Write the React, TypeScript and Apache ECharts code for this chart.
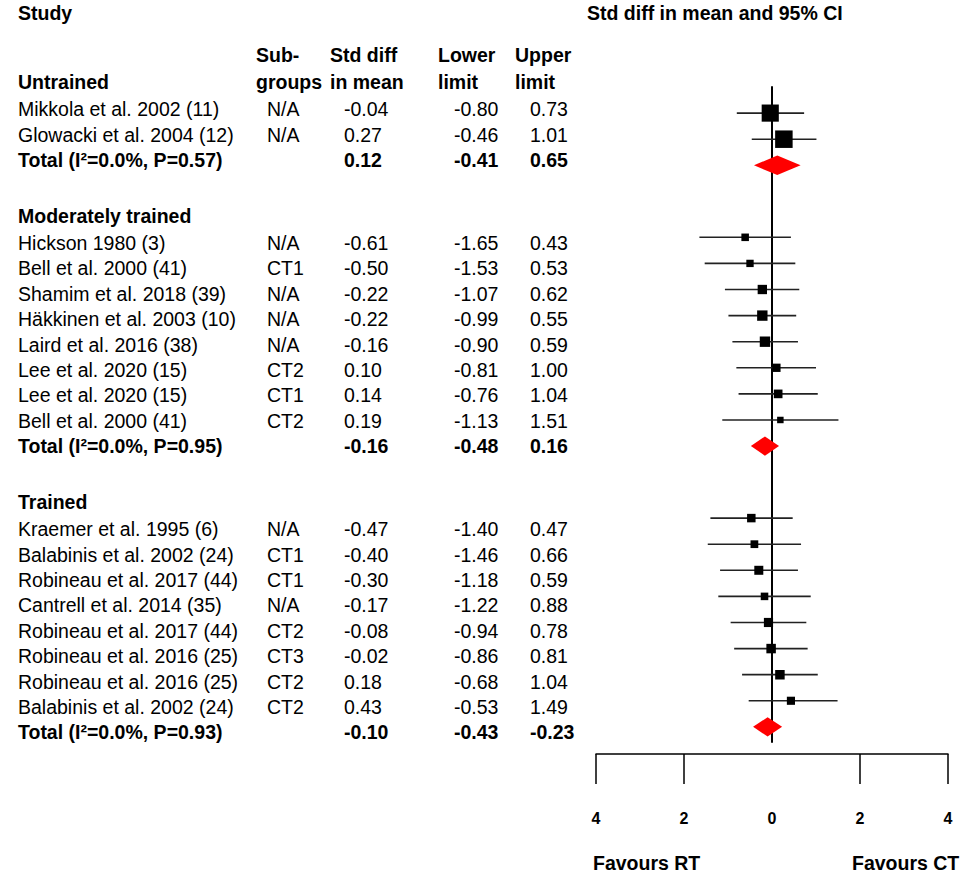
import React, { useEffect, useRef } from "react";
import * as echarts from "echarts";

// ---- subgroup data -------------------------------------------------------
const groupNames = ["Untrained", "Moderately trained", "Trained"];

const untrainedStudies = ["Mikkola et al. 2002 (11)", "Glowacki et al. 2004 (12)"];
const untrainedSubgroups = ["N/A", "N/A"];
const untrainedSmd = [-0.04, 0.27];
const untrainedLower = [-0.8, -0.46];
const untrainedUpper = [0.73, 1.01];
const untrainedWeights = [49, 51];

const moderateStudies = [
  "Hickson 1980 (3)",
  "Bell et al. 2000 (41)",
  "Shamim et al. 2018 (39)",
  "Häkkinen et al. 2003 (10)",
  "Laird et al. 2016 (38)",
  "Lee et al. 2020 (15)",
  "Lee et al. 2020 (15)",
  "Bell et al. 2000 (41)",
];
const moderateSubgroups = ["N/A", "CT1", "N/A", "N/A", "N/A", "CT2", "CT1", "CT2"];
const moderateSmd = [-0.61, -0.5, -0.22, -0.22, -0.16, 0.1, 0.14, 0.19];
const moderateLower = [-1.65, -1.53, -1.07, -0.99, -0.9, -0.81, -0.76, -1.13];
const moderateUpper = [0.43, 0.53, 0.62, 0.55, 0.59, 1.0, 1.04, 1.51];
const moderateWeights = [9.5, 9.0, 14.5, 18.0, 18.0, 11.5, 12.5, 7.0];

const trainedStudies = [
  "Kraemer et al. 1995 (6)",
  "Balabinis et al. 2002 (24)",
  "Robineau et al. 2017 (44)",
  "Cantrell et al. 2014 (35)",
  "Robineau et al. 2017 (44)",
  "Robineau et al. 2016 (25)",
  "Robineau et al. 2016 (25)",
  "Balabinis et al. 2002 (24)",
];
const trainedSubgroups = ["N/A", "CT1", "CT1", "N/A", "CT2", "CT3", "CT2", "CT2"];
const trainedSmd = [-0.47, -0.4, -0.3, -0.17, -0.08, -0.02, 0.18, 0.43];
const trainedLower = [-1.4, -1.46, -1.18, -1.22, -0.94, -0.86, -0.68, -0.53];
const trainedUpper = [0.47, 0.66, 0.59, 0.88, 0.78, 0.81, 1.04, 1.49];
const trainedWeights = [12.0, 10.0, 13.5, 9.5, 14.0, 15.0, 15.0, 11.0];

// pooled estimates per subgroup
const totalLabels = [
  "Total (I²=0.0%, P=0.57)",
  "Total (I²=0.0%, P=0.95)",
  "Total (I²=0.0%, P=0.93)",
];
const totalMean = [0.12, -0.16, -0.1];
const totalLower = [-0.41, -0.48, -0.43];
const totalUpper = [0.65, 0.16, 0.23];
// upper limits as printed in the published table (the trained row reads -0.23)
const totalUpperPrinted = ["0.65", "0.16", "-0.23"];

// axis tick values (labels show magnitudes on both sides of zero)
const axisTickValues = [-4, -2, 2, 4];
const axisLabelValues = [-4, -2, 0, 2, 4];

// ---- layout ----------------------------------------------------------------
const FONT = '"Liberation Sans", Arial, Helvetica, sans-serif';
const FS = 19.5;
const COL = { name: 18, sub: 267, smd: 344, lower: 454, upper: 530 };

const groups = [
  {
    studies: untrainedStudies,
    subgroups: untrainedSubgroups,
    smd: untrainedSmd,
    lower: untrainedLower,
    upper: untrainedUpper,
    weights: untrainedWeights,
  },
  {
    studies: moderateStudies,
    subgroups: moderateSubgroups,
    smd: moderateSmd,
    lower: moderateLower,
    upper: moderateUpper,
    weights: moderateWeights,
  },
  {
    studies: trainedStudies,
    subgroups: trainedSubgroups,
    smd: trainedSmd,
    lower: trainedLower,
    upper: trainedUpper,
    weights: trainedWeights,
  },
];

const fmt = (v: number) => v.toFixed(2);

type TableRow = { kind: "header" | "study" | "total"; cells: string[] };

// table rows (text lines) and plot rows (markers) use their own row spacing
const tableRows: TableRow[] = [];
const tableData: number[][] = [];
const studyData: number[][] = [];
const totalData: number[][] = [];

let tpos = 0;
let ppos = 0;
groups.forEach((g, gi) => {
  tableRows.push({ kind: "header", cells: [groupNames[gi]] });
  tableData.push([0, tpos]);
  tpos += 1.07;
  g.studies.forEach((name, i) => {
    tableRows.push({
      kind: "study",
      cells: [name, g.subgroups[i], fmt(g.smd[i]), fmt(g.lower[i]), fmt(g.upper[i])],
    });
    tableData.push([0, tpos]);
    tpos += 1;
    studyData.push([g.smd[i], ppos, g.lower[i], g.upper[i], g.weights[i]]);
    ppos += 1;
  });
  tableRows.push({
    kind: "total",
    cells: [totalLabels[gi], "", fmt(totalMean[gi]), fmt(totalLower[gi]), totalUpperPrinted[gi]],
  });
  tableData.push([0, tpos]);
  tpos += 2.2;
  totalData.push([totalMean[gi], ppos, totalLower[gi], totalUpper[gi]]);
  ppos += 2.76;
});

const textEl = (text: string, x: number, y: number, bold: boolean, size = FS) => ({
  type: "text",
  x,
  y,
  style: {
    text,
    fill: "#000",
    fontSize: size,
    fontWeight: bold ? "bold" : "normal",
    fontFamily: FONT,
    align: "left",
    verticalAlign: "middle",
  },
});

export default function App() {
  const ref = useRef<HTMLDivElement>(null);

  useEffect(() => {
    document.body.style.margin = "0";
    if (!ref.current) return;
    const chart = echarts.init(ref.current, undefined, { renderer: "svg" });

    const option: any = {
      animation: false,
      backgroundColor: "#ffffff",
      grid: [
        { left: 596, right: 12, top: 87, bottom: 136 },
        { left: 0, right: 0, top: 82, bottom: 34 },
      ],
      xAxis: [
        {
          gridIndex: 0,
          type: "value",
          min: -4,
          max: 4,
          interval: 2,
          offset: 12,
          axisLine: { onZero: false, lineStyle: { color: "#000", width: 1.5 } },
          axisTick: {
            show: true,
            length: 30,
            customValues: axisTickValues,
            lineStyle: { color: "#000", width: 1.5 },
          },
          axisLabel: {
            customValues: axisLabelValues,
            formatter: (v: number) => String(Math.abs(v)),
            margin: 56,
            color: "#000",
            fontWeight: "bold",
            fontSize: 16,
            fontFamily: FONT,
          },
          splitLine: { show: false },
        },
        { gridIndex: 1, type: "value", min: 0, max: 960, show: false },
      ],
      yAxis: [
        {
          gridIndex: 0,
          type: "value",
          min: -1,
          max: 24.1,
          inverse: true,
          axisLine: { show: true, onZero: true, lineStyle: { color: "#000", width: 2 } },
          axisTick: { show: false },
          axisLabel: { show: false },
          splitLine: { show: false },
        },
        { gridIndex: 1, type: "value", min: 0, max: 30, inverse: true, show: false },
      ],
      graphic: [
        textEl("Study", COL.name, 13, true),
        textEl("Std diff in mean and 95% CI", 587, 13, true),
        textEl("Sub-", 256, 55, true),
        textEl("groups", 256, 82, true),
        textEl("Std diff", 330, 55, true),
        textEl("in mean", 330, 82, true),
        textEl("Lower", 438, 55, true),
        textEl("limit", 438, 82, true),
        textEl("Upper", 515, 55, true),
        textEl("limit", 515, 82, true),
        textEl("Favours RT", 593, 863, true),
        textEl("Favours CT", 852, 863, true),
      ],
      series: [
        {
          // table text
          type: "custom",
          xAxisIndex: 1,
          yAxisIndex: 1,
          data: tableData,
          encode: { x: 0, y: 1 },
          renderItem: (params: any, api: any) => {
            const row = tableRows[params.dataIndex];
            const y = api.coord([0, api.value(1)])[1];
            if (row.kind === "header") {
              return { type: "group", children: [textEl(row.cells[0], COL.name, y, true)] };
            }
            const bold = row.kind === "total";
            const xs = [COL.name, COL.sub, COL.smd, COL.lower, COL.upper];
            return {
              type: "group",
              children: row.cells
                .map((c, i) => (c ? textEl(c, xs[i], y, bold) : null))
                .filter(Boolean),
            };
          },
        },
        {
          // individual studies: CI whisker + weighted square
          type: "custom",
          xAxisIndex: 0,
          yAxisIndex: 0,
          data: studyData,
          encode: { x: [0, 2, 3], y: 1 },
          renderItem: (_params: any, api: any) => {
            const yv = api.value(1);
            const c = api.coord([api.value(0), yv]);
            const l = api.coord([api.value(2), yv]);
            const u = api.coord([api.value(3), yv]);
            const s = 2.45 * Math.sqrt(api.value(4));
            return {
              type: "group",
              children: [
                {
                  type: "line",
                  shape: { x1: l[0], y1: c[1], x2: u[0], y2: c[1] },
                  style: { stroke: "#222", lineWidth: 1.6 },
                },
                {
                  type: "rect",
                  shape: { x: c[0] - s / 2, y: c[1] - s / 2, width: s, height: s },
                  style: { fill: "#000" },
                },
              ],
            };
          },
        },
        {
          // pooled subgroup estimates as diamonds
          type: "custom",
          xAxisIndex: 0,
          yAxisIndex: 0,
          data: totalData,
          encode: { x: [0, 2, 3], y: 1 },
          renderItem: (_params: any, api: any) => {
            const yv = api.value(1);
            const c = api.coord([api.value(0), yv]);
            const l = api.coord([api.value(2), yv]);
            const u = api.coord([api.value(3), yv]);
            const h = 9.7;
            return {
              type: "polygon",
              shape: {
                points: [
                  [l[0], c[1]],
                  [c[0], c[1] - h],
                  [u[0], c[1]],
                  [c[0], c[1] + h],
                ],
              },
              style: { fill: "#ff0000" },
            };
          },
        },
      ],
    };

    chart.setOption(option);
    return () => chart.dispose();
  }, []);

  return <div ref={ref} style={{ width: 960, height: 878 }} />;
}
